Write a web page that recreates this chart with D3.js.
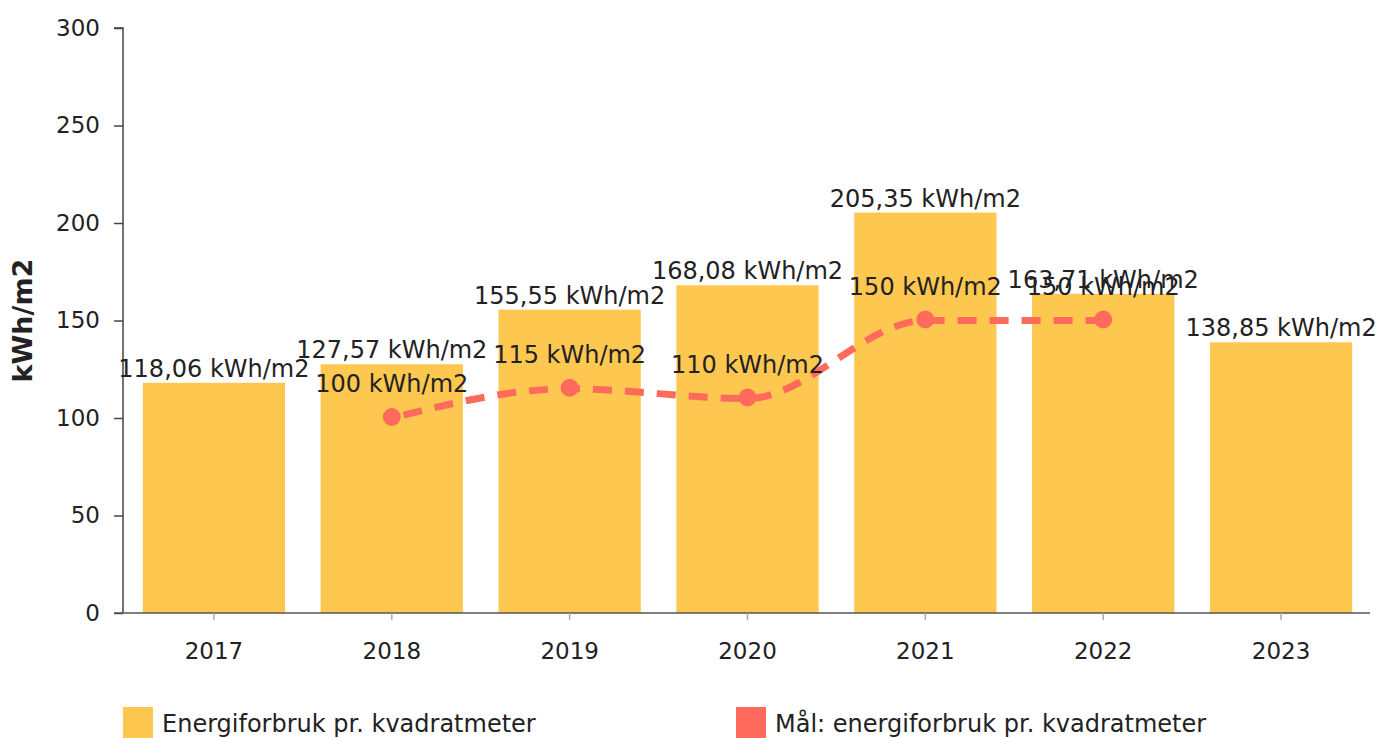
<!DOCTYPE html>
<html>
<head>
<meta charset="utf-8">
<script src="https://cdn.jsdelivr.net/npm/d3@7"></script>
<style>
  html, body { margin: 0; padding: 0; background: #fff; }
  svg { display: block; font-family: "DejaVu Sans", Verdana, sans-serif; }
</style>
</head>
<body>
<svg id="chart" width="1382" height="738"></svg>
<script>
const years = ["2017", "2018", "2019", "2020", "2021", "2022", "2023"];
const consumption = [118.06, 127.57, 155.55, 168.08, 205.35, 163.71, 138.85];
const targetYears = ["2018", "2019", "2020", "2021", "2022"];
const targets = [100, 115, 110, 150, 150];
const yTicks = [0, 50, 100, 150, 200, 250, 300];
const legendLabels = ["Energiforbruk pr. kvadratmeter", "Mål: energiforbruk pr. kvadratmeter"];

(function () {
const barColor = "#FEC850";
const lineColor = "#FF6A5C";
const textColor = "#222";
const fmt = v => v.toFixed(2).replace(".", ",") + " kWh/m2";
const fmtT = v => v + " kWh/m2";

const svg = d3.select("#chart");
const mLeft = 123, mRight = 1370, mTop = 28, mBottom = 613;

const x = d3.scaleBand().domain(years).range([mLeft + 2, mRight]).paddingInner(0.2).paddingOuter(0.1);
const y = d3.scaleLinear().domain([0, 300]).range([mBottom, mTop]);

// bars
svg.append("g").selectAll("rect").data(years).join("rect")
  .attr("x", d => x(d))
  .attr("width", x.bandwidth())
  .attr("y", (d, i) => y(consumption[i]))
  .attr("height", (d, i) => mBottom - y(consumption[i]))
  .attr("fill", barColor);

// y axis
const yAxis = svg.append("g").attr("transform", `translate(${mLeft},0)`)
  .call(d3.axisLeft(y).tickValues(yTicks).tickSize(9).tickPadding(14));
yAxis.select(".domain").attr("stroke", "#444").attr("stroke-width", 1.5).attr("d", `M-9,${mTop}H0V${mBottom}`);
yAxis.selectAll(".tick line").attr("stroke", "#444").attr("stroke-width", 1.5);
yAxis.selectAll("text").attr("font-size", 23).attr("fill", textColor).attr("font-family", "DejaVu Sans, Verdana, sans-serif");

// x axis
const xAxis = svg.append("g").attr("transform", `translate(0,${mBottom})`)
  .call(d3.axisBottom(x).tickSize(7).tickPadding(23));
xAxis.select(".domain").attr("stroke", "#555").attr("stroke-width", 1.5).attr("d", `M${mLeft - 9},0H${mRight}`);
xAxis.selectAll(".tick line").attr("stroke", "#aaa").attr("stroke-width", 1.5);
xAxis.selectAll("text").attr("font-size", 23).attr("fill", textColor).attr("font-family", "DejaVu Sans, Verdana, sans-serif");

// y axis title
svg.append("text")
  .attr("transform", `translate(32,${(mTop + mBottom) / 2}) rotate(-90)`)
  .attr("text-anchor", "middle")
  .attr("font-size", 27).attr("font-weight", "bold").attr("fill", textColor)
  .text("kWh/m2");

// bar labels
svg.append("g").selectAll("text").data(years).join("text")
  .attr("x", d => x(d) + x.bandwidth() / 2)
  .attr("y", (d, i) => y(consumption[i]) - 6)
  .attr("text-anchor", "middle")
  .attr("font-size", 24).attr("fill", textColor)
  .text((d, i) => fmt(consumption[i]));

// target line
const cx = d => x(d) + x.bandwidth() / 2;
const line = d3.line().x((d, i) => cx(targetYears[i])).y(d => y(d)).curve(d3.curveMonotoneX);
svg.append("path")
  .datum(targets)
  .attr("d", line)
  .attr("fill", "none")
  .attr("stroke", lineColor)
  .attr("stroke-width", 7)
  .attr("stroke-dasharray", "19,13")
  .attr("stroke-dashoffset", -12);

svg.append("g").selectAll("circle").data(targets).join("circle")
  .attr("cx", (d, i) => cx(targetYears[i]))
  .attr("cy", d => y(d) - 1)
  .attr("r", 9)
  .attr("fill", lineColor);

svg.append("g").selectAll("text").data(targets).join("text")
  .attr("x", (d, i) => cx(targetYears[i]))
  .attr("y", d => y(d) - 26)
  .attr("text-anchor", "middle")
  .attr("font-size", 24).attr("fill", textColor)
  .text(d => fmtT(d));

// legend
const legend = svg.append("g");
const legendX = [123, 736];
const legendColors = [barColor, lineColor];
legendLabels.forEach((lab, i) => {
  legend.append("rect").attr("x", legendX[i]).attr("y", 707).attr("width", 30).attr("height", 34).attr("fill", legendColors[i]);
  legend.append("text").attr("x", legendX[i] + 39).attr("y", 732)
    .attr("font-size", 24).attr("fill", textColor).text(lab);
});
})();
</script>
</body>
</html>
